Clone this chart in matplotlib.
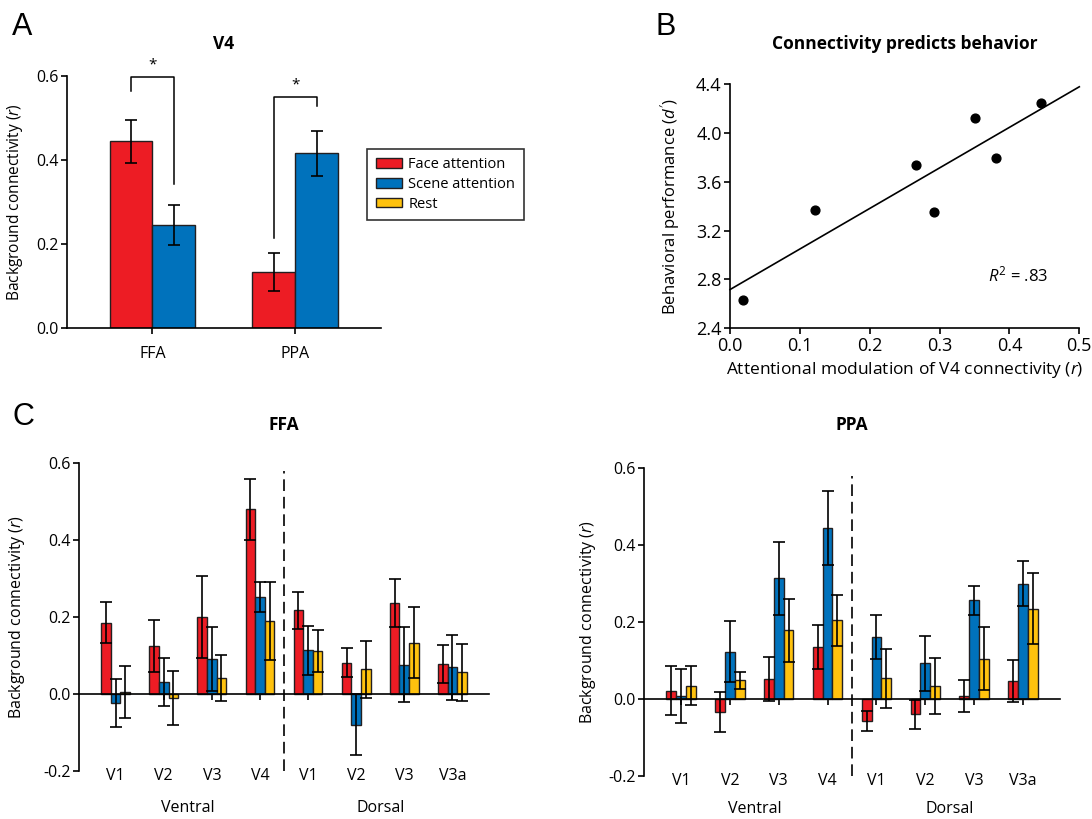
import numpy as np
import matplotlib
matplotlib.use("Agg")
import matplotlib.pyplot as plt
from matplotlib.patches import Patch
from matplotlib.ticker import FormatStrFormatter
import matplotlib.transforms as mtransforms

plt.rcParams['font.family'] = ['Open Sans', 'DejaVu Sans']
plt.rcParams['mathtext.fontset'] = 'custom'
plt.rcParams['mathtext.rm'] = 'Open Sans'
plt.rcParams['mathtext.it'] = 'Open Sans:italic'
plt.rcParams['mathtext.bf'] = 'Open Sans:bold'

# ---------------- data ----------------
RED, BLUE, YELLOW = '#ED1C24', '#0072BC', '#FFC20E'
EDGE = '#231F20'

series_names = ['Face attention', 'Scene attention', 'Rest']

# Panel A: V4 background connectivity
a_regions = ['FFA', 'PPA']
a_face = [0.445, 0.133]
a_face_err = [0.051, 0.046]
a_scene = [0.245, 0.416]
a_scene_err = [0.048, 0.053]

# Panel B: connectivity vs behavior
b_modulation = [0.019, 0.122, 0.266, 0.292, 0.350, 0.381, 0.445]
b_dprime = [2.632, 3.368, 3.734, 3.352, 4.121, 3.794, 4.244]

# Panel C
c_areas = ['V1', 'V2', 'V3', 'V4', 'V1', 'V2', 'V3', 'V3a']
c_groups = ['Ventral', 'Dorsal']

ffa_face = [0.185, 0.125, 0.200, 0.480, 0.217, 0.081, 0.237, 0.078]
ffa_face_err = [0.053, 0.067, 0.108, 0.080, 0.047, 0.038, 0.063, 0.050]
ffa_scene = [-0.023, 0.030, 0.090, 0.252, 0.113, -0.080, 0.076, 0.069]
ffa_scene_err = [0.062, 0.062, 0.083, 0.038, 0.063, 0.080, 0.098, 0.084]
ffa_rest = [0.005, -0.010, 0.041, 0.190, 0.112, 0.064, 0.133, 0.056]
ffa_rest_err = [0.067, 0.070, 0.059, 0.101, 0.054, 0.074, 0.093, 0.075]

ppa_face = [0.022, -0.035, 0.051, 0.136, -0.058, -0.040, 0.008, 0.046]
ppa_face_err = [0.063, 0.052, 0.057, 0.057, 0.026, 0.037, 0.042, 0.055]
ppa_scene = [0.008, 0.123, 0.313, 0.444, 0.161, 0.093, 0.256, 0.300]
ppa_scene_err = [0.071, 0.079, 0.095, 0.095, 0.056, 0.071, 0.038, 0.059]
ppa_rest = [0.035, 0.049, 0.178, 0.204, 0.054, 0.034, 0.105, 0.235]
ppa_rest_err = [0.051, 0.022, 0.083, 0.067, 0.077, 0.072, 0.082, 0.092]

# ---------------- figure ----------------
fig = plt.figure(figsize=(10.92, 8.19), dpi=100)
W, H = 1092.0, 819.0


def add_axes_px(left, top, right, bottom):
    return fig.add_axes([left / W, 1 - bottom / H, (right - left) / W, (bottom - top) / H])


def style_axes(ax, fs):
    for s in ['top', 'right']:
        ax.spines[s].set_visible(False)
    for s in ['left', 'bottom']:
        ax.spines[s].set_linewidth(1.2)
        ax.spines[s].set_color('black')
    ax.tick_params(direction='out', length=4, width=1.2, labelsize=fs, colors='black', pad=2)


ERR_KW = dict(fmt='none', ecolor='black', elinewidth=1.2, capsize=4.5, capthick=1.2, zorder=3)

# ---------------- Panel A ----------------
axA = add_axes_px(66.7, 76, 381, 328)
style_axes(axA, 11.5)
xa = np.arange(len(a_regions))
bw = 0.3
axA.bar(xa - bw / 2, a_face, bw, color=RED, edgecolor=EDGE, linewidth=1.0, zorder=2)
axA.bar(xa + bw / 2, a_scene, bw, color=BLUE, edgecolor=EDGE, linewidth=1.0, zorder=2)
axA.errorbar(xa - bw / 2, a_face, yerr=a_face_err, **ERR_KW)
axA.errorbar(xa + bw / 2, a_scene, yerr=a_scene_err, **ERR_KW)
axA.set_xlim(-0.6, 1.6)
axA.set_ylim(0, 0.6)
axA.set_yticks([0, 0.2, 0.4, 0.6])
axA.yaxis.set_major_formatter(FormatStrFormatter('%.1f'))
axA.set_xticks(xa)
axA.set_xticklabels(a_regions)
axA.tick_params(axis='x', pad=9)
axA.set_ylabel('Background connectivity ($\\it{r}$)', fontsize=11.2)
axA.yaxis.set_label_coords(-0.133, 0.5)
axA.set_title('V4', fontsize=12.5, fontweight='bold', pad=19.5)

# significance brackets (left foot, right foot, top)
brackets = [(0, 0.565, 0.342, 0.597), (1, 0.215, 0.529, 0.549)]
for i, lf, rf, top in brackets:
    xl, xr = xa[i] - bw / 2, xa[i] + bw / 2
    axA.plot([xl, xl, xr, xr], [lf, top, top, rf], color='black', lw=1.1, clip_on=False, zorder=4)
    axA.text((xl + xr) / 2, top + 0.012, '*', ha='center', va='bottom', fontsize=11, clip_on=False)

handles = [Patch(facecolor=c, edgecolor=EDGE, linewidth=1.0) for c in (RED, BLUE, YELLOW)]
leg = axA.legend(handles, series_names, loc='upper left', bbox_to_anchor=(0.955, 0.712),
                 fontsize=10.5, frameon=True, fancybox=False, edgecolor='black',
                 handlelength=1.8, handleheight=0.65, handletextpad=0.45,
                 labelspacing=0.32, borderpad=0.6, borderaxespad=0)
leg.get_frame().set_linewidth(1.2)

# ---------------- Panel B ----------------
axB = add_axes_px(730, 84, 1079.3, 328.3)
style_axes(axB, 13)
axB.scatter(b_modulation, b_dprime, s=40, color='black', zorder=3, clip_on=False)
slope, intercept = np.polyfit(b_modulation, b_dprime, 1)
xl = np.array([0.0, 0.5])
axB.plot(xl, intercept + slope * xl, color='black', lw=1.2, clip_on=False)
r2 = np.corrcoef(b_modulation, b_dprime)[0, 1] ** 2
axB.text(0.369, 2.836, '$R^2$ = .%02d' % round(r2 * 100), fontsize=12, ha='left', va='center')
axB.set_xlim(0, 0.5)
axB.set_ylim(2.4, 4.4)
axB.set_xticks(np.arange(0, 0.51, 0.1))
axB.set_yticks(np.arange(2.4, 4.41, 0.4))
axB.xaxis.set_major_formatter(FormatStrFormatter('%.1f'))
axB.yaxis.set_major_formatter(FormatStrFormatter('%.1f'))
axB.set_xlabel('Attentional modulation of V4 connectivity ($\\it{r}$)', fontsize=12.5, labelpad=4)
axB.set_ylabel("Behavioral performance ($\\it{d'}$)", fontsize=12)
axB.yaxis.set_label_coords(-0.137, 0.5)
axB.set_title('Connectivity predicts behavior', fontsize=12.5, fontweight='bold', pad=25)


# ---------------- Panel C ----------------
def panel_c(ax, face, face_err, scene, scene_err, rest, rest_err, title, lab_y, grp_y, ylab_x, tpad):
    style_axes(ax, 11.5)
    x = np.arange(len(c_areas))
    w = 0.2
    for off, vals, errs, col in ((-w, face, face_err, RED), (0, scene, scene_err, BLUE),
                                 (w, rest, rest_err, YELLOW)):
        ax.bar(x + off, vals, w, color=col, edgecolor=EDGE, linewidth=1.0, zorder=2)
        ax.errorbar(x + off, vals, yerr=errs, **ERR_KW)
    ax.set_xlim(-0.76, 7.76)
    ax.set_ylim(-0.2, 0.6)
    ax.set_yticks([-0.2, 0, 0.2, 0.4, 0.6])
    ax.yaxis.set_major_formatter(FormatStrFormatter('%.1f'))
    ax.spines['bottom'].set_position(('data', 0))
    ax.set_xticks(x)
    ax.tick_params(axis='x', labelbottom=False, length=4)
    trans = mtransforms.blended_transform_factory(ax.transData, ax.transAxes)
    for xi, lab in zip(x, c_areas):
        ax.text(xi, lab_y, lab, transform=trans, ha='center', va='center', fontsize=11.5)
    ax.text(1.5, grp_y, c_groups[0], transform=trans, ha='center', va='center', fontsize=11.5)
    ax.text(5.5, grp_y, c_groups[1], transform=trans, ha='center', va='center', fontsize=11.5)
    ax.plot([3.5, 3.5], [-0.2, 0.58], color='black', lw=1.2, ls=(0, (7, 3.5)), zorder=1)
    ax.set_ylabel('Background connectivity ($\\it{r}$)', fontsize=11.5)
    ax.yaxis.set_label_coords(ylab_x, 0.5)
    ax.set_title(title, fontsize=12.5, fontweight='bold', pad=tpad)


axC1 = add_axes_px(79, 463.3, 489, 770.7)
panel_c(axC1, ffa_face, ffa_face_err, ffa_scene, ffa_scene_err, ffa_rest, ffa_rest_err,
        'FFA', -0.017, -0.121, -0.127, 24)
axC2 = add_axes_px(644, 468, 1060, 776)
panel_c(axC2, ppa_face, ppa_face_err, ppa_scene, ppa_scene_err, ppa_rest, ppa_rest_err,
        'PPA', -0.016, -0.107, -0.111, 27)

# panel letters
for lab, px, py in (('A', 12, 12), ('B', 655, 12), ('C', 12, 402)):
    fig.text(px / W, 1 - py / H, lab, fontsize=22, family='Liberation Sans', ha='left', va='top')

fig.savefig('out.png', dpi=100)
